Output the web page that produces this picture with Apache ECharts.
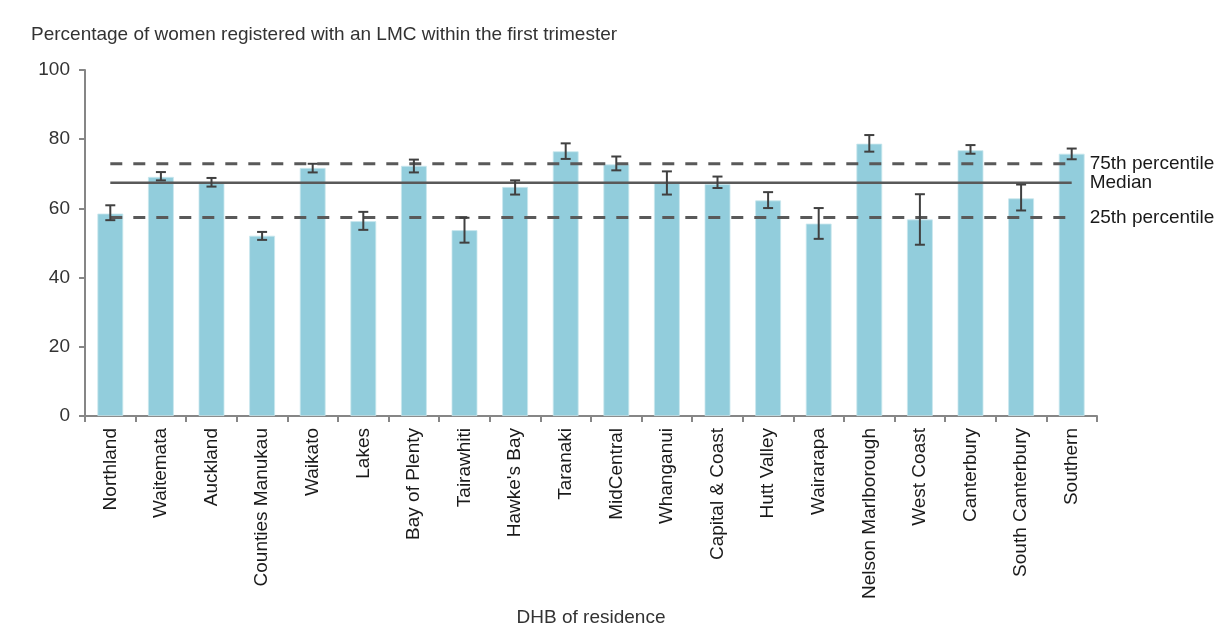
<!DOCTYPE html>
<html>
<head>
<meta charset="utf-8">
<script src="https://cdn.jsdelivr.net/npm/echarts@6/dist/echarts.min.js"></script>
<style>
html,body{margin:0;padding:0;background:#fff;}
#chart{width:1231px;height:625px;}
</style>
</head>
<body>
<div id="chart"></div>
<script>
const categories = ["Northland","Waitemata","Auckland","Counties Manukau","Waikato","Lakes","Bay of Plenty","Tairawhiti","Hawke's Bay","Taranaki","MidCentral","Whanganui","Capital & Coast","Hutt Valley","Wairarapa","Nelson Marlborough","West Coast","Canterbury","South Canterbury","Southern"];
const values = [58.5,69.1,67.3,52.1,71.7,56.3,72.3,53.7,66.2,76.5,72.7,67.3,67.0,62.3,55.6,78.7,56.8,76.8,62.9,75.8];
const errLow = [56.6,68.1,66.3,50.9,70.4,53.8,70.4,50.1,64.0,74.3,71.0,64.0,65.9,60.1,51.2,76.4,49.5,75.8,59.4,74.2];
const errHigh = [60.9,70.5,68.8,53.2,72.9,59.0,74.1,57.3,68.1,78.8,75.0,70.7,69.2,64.7,60.1,81.2,64.1,78.3,66.9,77.3];
const p75 = 72.9;
const median = 67.4;
const p25 = 57.4;
const yTicks = [0,20,40,60,80,100];

const chart = echarts.init(document.getElementById('chart'));
const font = 'Liberation Sans, Arial, sans-serif';
const refLine = (name, v, type, w) => ({
  name: name,
  type: 'line',
  data: categories.map(() => v),
  symbol: 'none',
  silent: true,
  z: 5,
  lineStyle: {color: '#595959', width: w, type: type, cap: 'butt'},
  endLabel: {show: true, formatter: name, color: '#1a1a1a', fontSize: 19, fontFamily: font, distance: 18}
});
chart.setOption({
  animation: false,
  title: {
    text: 'Percentage of women registered with an LMC within the first trimester',
    left: 26, top: 20,
    textStyle: {fontSize: 19, fontWeight: 'normal', color: '#333', fontFamily: font}
  },
  grid: {left: 85, right: 134, top: 70, bottom: 209, containLabel: false, outerBoundsMode: 'none'},
  xAxis: {
    type: 'category',
    data: categories,
    name: 'DHB of residence',
    nameLocation: 'middle',
    nameGap: 192,
    nameTextStyle: {fontSize: 19, color: '#333', fontFamily: font},
    axisLine: {lineStyle: {color: '#868686', width: 2}},
    axisTick: {show: true, length: 6, lineStyle: {color: '#868686', width: 2}},
    axisLabel: {rotate: 90, fontSize: 19, color: '#1a1a1a', fontFamily: font, margin: 12, interval: 0}
  },
  yAxis: {
    type: 'value',
    min: 0, max: 100, interval: 20,
    axisLine: {show: true, lineStyle: {color: '#868686', width: 2}},
    axisTick: {show: true, length: 6, lineStyle: {color: '#868686', width: 2}},
    splitLine: {show: false},
    axisLabel: {fontSize: 19, color: '#333', fontFamily: font, margin: 15,
      formatter: v => yTicks.includes(v) ? String(v) : ''}
  },
  series: [
    {
      type: 'bar',
      data: values,
      barWidth: '51%',
      itemStyle: {color: '#92CDDC', borderColor: '#c9e7ee', borderWidth: 0.8},
      z: 2
    },
    refLine('75th percentile', p75, [12, 11], 3),
    refLine('Median', median, 'solid', 2.5),
    refLine('25th percentile', p25, [12, 11], 3),
    {
      type: 'custom',
      z: 10,
      data: categories.map((c, i) => [i, errLow[i], errHigh[i]]),
      renderItem: function (params, api) {
        const x = api.value(0);
        const lo = api.coord([x, api.value(1)]);
        const hi = api.coord([x, api.value(2)]);
        const hw = 5;
        const style = {stroke: '#404040', lineWidth: 2};
        return {
          type: 'group',
          children: [
            {type: 'line', shape: {x1: lo[0], y1: lo[1], x2: hi[0], y2: hi[1]}, style: style},
            {type: 'line', shape: {x1: lo[0]-hw, y1: lo[1], x2: lo[0]+hw, y2: lo[1]}, style: style},
            {type: 'line', shape: {x1: hi[0]-hw, y1: hi[1], x2: hi[0]+hw, y2: hi[1]}, style: style}
          ]
        };
      }
    }
  ]
});
</script>
</body>
</html>
